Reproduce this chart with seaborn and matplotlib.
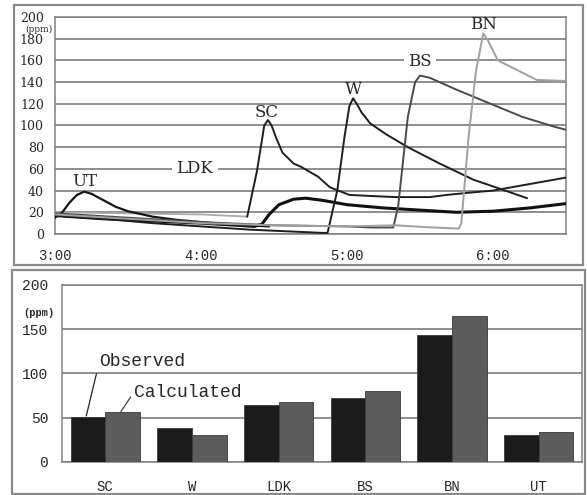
import matplotlib
matplotlib.use('Agg')
import matplotlib.pyplot as plt
from matplotlib.patches import Rectangle
import pandas as pd
import seaborn as sns

# ---- top panel: concentration time series (minutes after 0:00, ppm) ----
ut_t = [180, 183, 186, 189, 192, 195, 200, 205, 210, 220, 230, 240, 250, 260, 268]
ut_v = [15, 20, 29, 36, 39, 37, 31, 25, 21, 16, 13, 11, 9, 8, 7]

ldk_t = [180, 200, 220, 240, 255, 262, 265, 268, 272, 278, 283, 290, 300, 315, 330, 345, 360, 375, 390]
ldk_v = [17, 14, 12, 10, 8, 7, 9, 18, 27, 32, 33, 31, 27, 24, 22, 20, 21, 24, 28]

# SC: faint baseline before the rise, then the peak
sc_base_t = [180, 210, 240, 259]
sc_base_v = [20, 19, 18, 16]
sc_t = [259, 263, 266, 267.5, 269, 271, 273.5, 278, 281, 288, 293, 301, 310, 320, 334, 341, 350, 360, 375, 390]
sc_v = [16, 58, 100, 105, 100, 88, 75, 65, 62, 53, 43, 36, 35, 34, 34, 36, 38, 40, 46, 52]

w_t = [180, 200, 220, 240, 260, 280, 290, 292, 296, 299, 301, 302.5, 304, 306, 309.5, 316, 325, 338, 352, 365, 374]
w_v = [17, 14, 10, 7, 4, 2, 1, 1, 40, 90, 118, 125, 120, 112, 102, 92, 80, 65, 50, 40, 33]

bs_t = [180, 210, 240, 270, 300, 310, 319, 321, 325, 328, 330, 334, 345, 359, 372, 385, 390]
bs_v = [19, 15, 11, 8, 7, 6, 6, 25, 108, 140, 146, 144, 133, 120, 108, 99, 96]

bn_t = [180, 210, 240, 270, 300, 320, 335, 346, 347, 350, 353, 356, 358, 362, 370, 378, 390]
bn_v = [18, 14, 10, 8, 7, 8, 6, 5, 10, 90, 150, 185, 178, 160, 151, 142, 141]

time_ticks = [180, 240, 300, 360]
time_labels = ['3:00', '4:00', '5:00', '6:00']

# ---- bottom panel: observed vs calculated ----
rooms = ['SC', 'W', 'LDK', 'BS', 'BN', 'UT']
observed = [51, 38, 64, 72, 143, 30]
calculated = [56, 31, 68, 80, 165, 34]

sns.set_style('white')
plt.rcParams['font.family'] = ['Liberation Mono', 'DejaVu Sans']

fig = plt.figure(figsize=(5.87, 4.95), dpi=100)

# outer frames around each panel
for (x0, y0, w, h) in [(0.024, 0.465, 0.969, 0.525), (0.020, 0.003, 0.977, 0.452)]:
    fig.patches.append(Rectangle((x0, y0), w, h, transform=fig.transFigure,
                                 fill=False, edgecolor='#8a8a8a', lw=1.6))

grid_c = '#707070'

# ---------------- top panel ----------------
ax1 = fig.add_axes([0.0937, 0.5273, 0.8705, 0.4384])
series = [
    ('SC base', sc_base_t, sc_base_v, '#a8a8a8', 1.3),
    ('UT', ut_t, ut_v, '#151515', 1.6),
    ('LDK', ldk_t, ldk_v, '#101010', 2.2),
    ('SC', sc_t, sc_v, '#1e1e1e', 1.4),
    ('W', w_t, w_v, '#1e1e1e', 1.4),
    ('BS', bs_t, bs_v, '#4a4a4a', 1.4),
    ('BN', bn_t, bn_v, '#a0a0a0', 1.4),
]
for name, t, v, c, lw in series:
    sns.lineplot(x=t, y=v, ax=ax1, color=c, lw=lw, zorder=3)

ax1.set_xlim(180, 390)
ax1.set_ylim(0, 200)
ax1.set_yticks(range(0, 201, 20))
ax1.set_xticks(time_ticks)
ax1.set_xticklabels(time_labels, fontsize=10)
for lab in ax1.get_yticklabels():
    lab.set_fontfamily('DejaVu Serif')
    lab.set_fontsize(9)
ax1.tick_params(axis='y', length=0, pad=8)
ax1.tick_params(axis='x', direction='in', length=3, pad=11, color='#555555')
ax1.grid(axis='y', color=grid_c, lw=1.1)
ax1.set_axisbelow(True)
for s in ax1.spines.values():
    s.set_color('#808080')
    s.set_linewidth(1.1)
ax1.set_xlabel('')
ax1.set_ylabel('')

# curve labels
lab_kw = dict(fontfamily='DejaVu Serif', fontsize=12, ha='center', va='center', zorder=4)
ax1.text(192, 48, 'UT', **lab_kw)
ax1.text(267, 112, 'SC', **lab_kw)
ax1.text(302.5, 133, 'W', **lab_kw)
ax1.text(356, 193, 'BN', **lab_kw)
ax1.text(237.5, 60, 'LDK', bbox=dict(fc='white', ec='none', pad=3), **lab_kw)
ax1.text(330, 159, 'BS', bbox=dict(fc='white', ec='none', pad=3), **lab_kw)
fig.text(0.066, 0.9415, '(ppm)', fontfamily='DejaVu Serif', fontsize=6.5,
         ha='center', va='center')

# ---------------- bottom panel ----------------
ax2 = fig.add_axes([0.1056, 0.0667, 0.886, 0.3576])
bar_df = pd.DataFrame({
    'room': rooms * 2,
    'ppm': observed + calculated,
    'kind': ['Observed'] * len(rooms) + ['Calculated'] * len(rooms),
})
sns.barplot(data=bar_df, x='room', y='ppm', hue='kind', ax=ax2,
            palette=['#1b1b1b', '#5c5c5c'], saturation=1, width=0.8,
            legend=False, edgecolor='#3a3a3a', linewidth=0.6, zorder=3)
ax2.set_xlim(-0.5, 5.5)
ax2.set_ylim(0, 200)
ax2.set_yticks([0, 50, 100, 150, 200])
ax2.tick_params(axis='y', length=0, pad=10, labelsize=10.5)
ax2.tick_params(axis='x', length=0, pad=13, labelsize=10)
ax2.set_xticks([0.5, 1.5, 2.5, 3.5, 4.5], minor=True)
ax2.tick_params(axis='x', which='minor', length=3, color='#777777', direction='out')
ax2.grid(axis='y', color=grid_c, lw=1.1)
ax2.set_axisbelow(True)
for s in ax2.spines.values():
    s.set_color('#808080')
    s.set_linewidth(1.1)
ax2.set_xlabel('')
ax2.set_ylabel('')

ax2.annotate('Observed', xy=(-0.22, 52), xytext=(-0.07, 113), fontsize=13,
             ha='left', va='center', zorder=4,
             arrowprops=dict(arrowstyle='-', color='#222222', lw=0.9,
                             shrinkA=0, shrinkB=0, relpos=(0, 0.5)))
ax2.annotate('Calculated', xy=(0.18, 57), xytext=(0.33, 79), fontsize=13,
             ha='left', va='center', zorder=4,
             arrowprops=dict(arrowstyle='-', color='#444444', lw=0.9,
                             shrinkA=0, shrinkB=0, relpos=(0, 0.5)))
fig.text(0.066, 0.367, '(ppm)', fontsize=7.5, fontweight='bold',
         ha='center', va='center')

fig.savefig('out.png', dpi=100)
